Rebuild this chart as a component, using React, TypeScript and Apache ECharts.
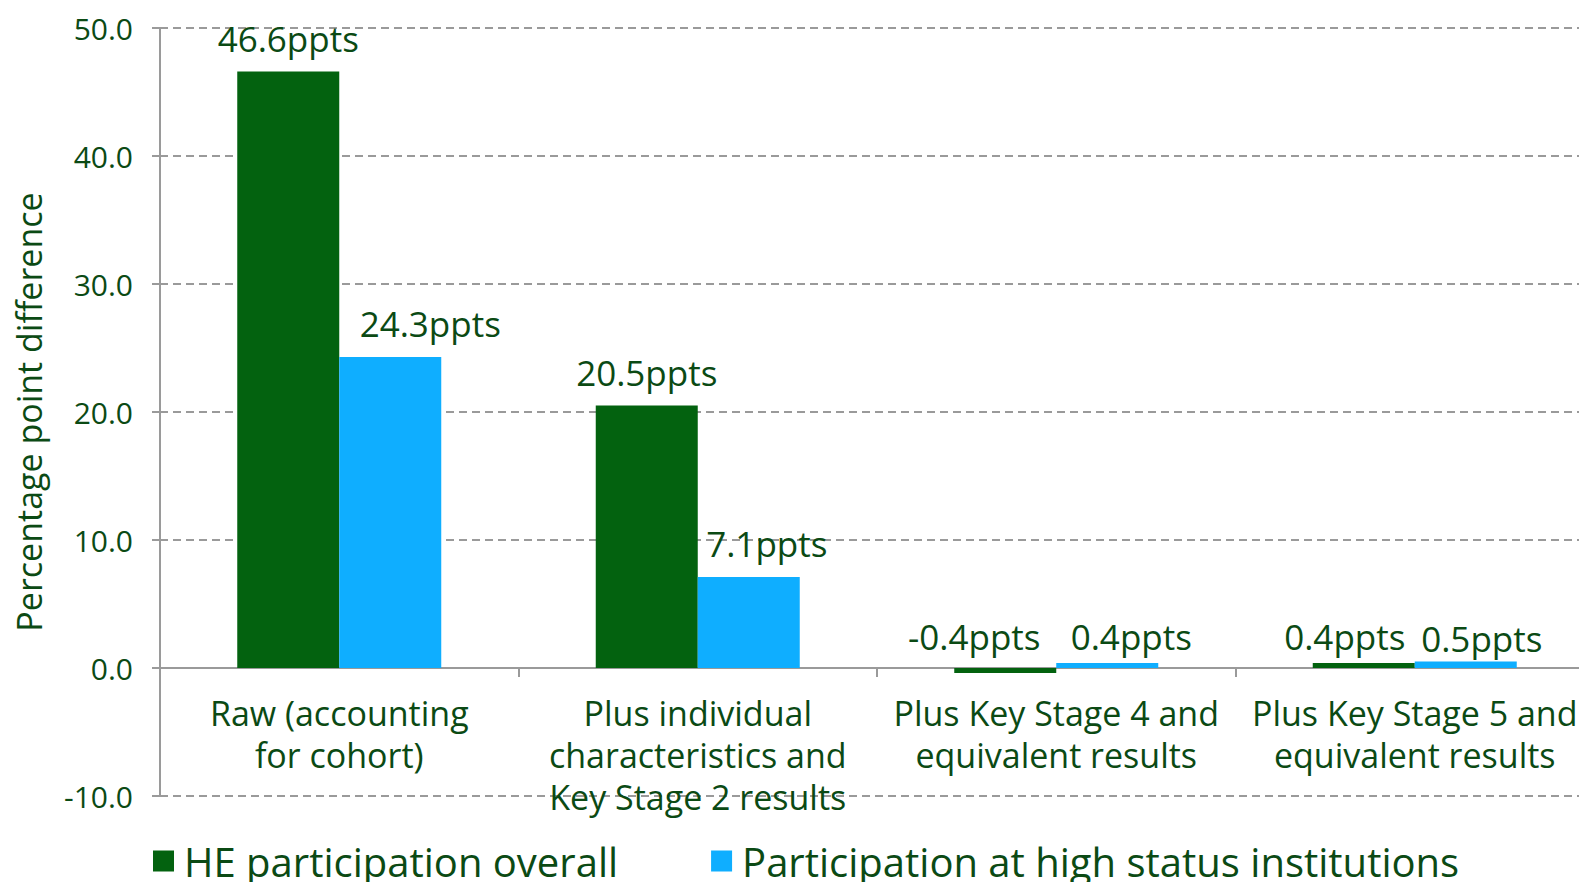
import React, { useEffect, useRef } from "react";
import * as echarts from "echarts";

const categories = [
  "Raw (accounting\nfor cohort)",
  "Plus individual\ncharacteristics and\nKey Stage 2 results",
  "Plus Key Stage 4 and\nequivalent results",
  "Plus Key Stage 5 and\nequivalent results",
];
const seriesNames = ["HE participation overall", "Participation at high status institutions"];
const heOverall = [46.6, 20.5, -0.4, 0.4];
const highStatus = [24.3, 7.1, 0.4, 0.5];
const yMin = -10;
const yMax = 50;
const yInterval = 10;
const yAxisName = "Percentage point difference";

const GREEN = "#03620f";
const BLUE = "#0faeff";
const TEXT = "#0b4a14";
const GRAY = "#9a9a9a";
const FONT = "Open Sans";

const W = 1579;
const H = 882;
const GRID_TOP = 28;
const GRID_BOTTOM = 86;

export default function App() {
  const ref = useRef<HTMLDivElement>(null);
  useEffect(() => {
    if (!ref.current) return;
    const chart = echarts.init(ref.current, undefined, { renderer: "svg" });
    const gridH = H - GRID_TOP - GRID_BOTTOM;
    const zeroOffset = -((0 - yMin) / (yMax - yMin)) * gridH;
    const baseLabel = {
      show: true,
      position: "top",
      distance: 16,
      color: TEXT,
      fontFamily: FONT,
      fontSize: 35,
      formatter: (p: any) => `${p.value}ppts`,
    };
    // nudges of the value labels, as in the reference
    const greenShift = [[0, 0], [0, 0], [-31, 2], [-19, 7]];
    const blueShift = [[40, 0], [18, 0], [24, 7], [16, 10]];
    const mk = (vals: number[], shifts: number[][]) =>
      vals.map((v, i) => ({ value: v, label: { offset: shifts[i] } }));
    chart.setOption({
      animation: false,
      textStyle: { fontFamily: FONT },
      grid: {
        left: 160,
        top: GRID_TOP,
        bottom: GRID_BOTTOM,
        right: -15,
        containLabel: false,
        outerBoundsMode: "none",
      },
      legend: {
        left: 148,
        bottom: -4,
        itemWidth: 21,
        itemHeight: 21,
        itemGap: 93,
        icon: "rect",
        textStyle: { color: TEXT, fontSize: 40, fontFamily: FONT, padding: [0, 0, 0, 5] },
        data: seriesNames,
      },
      xAxis: {
        type: "category",
        data: categories,
        position: "bottom",
        offset: zeroOffset,
        axisLine: { show: true, onZero: false, lineStyle: { color: GRAY, width: 2 } },
        axisTick: { show: true, length: 9, lineStyle: { color: GRAY, width: 2 } },
        axisLabel: {
          interval: 0,
          margin: 24,
          color: TEXT,
          fontSize: 34,
          lineHeight: 42,
          fontFamily: FONT,
          verticalAlign: "top",
        },
        splitLine: { show: false },
      },
      yAxis: {
        type: "value",
        min: yMin,
        max: yMax,
        interval: yInterval,
        name: yAxisName,
        nameLocation: "middle",
        nameGap: 114,
        nameTextStyle: { color: TEXT, fontSize: 34, fontFamily: FONT },
        axisLine: { show: true, lineStyle: { color: GRAY, width: 2 } },
        axisTick: { show: true, length: 8, lineStyle: { color: GRAY, width: 2 } },
        axisLabel: {
          margin: 27,
          color: TEXT,
          fontSize: 30,
          fontFamily: FONT,
          formatter: (v: number) => v.toFixed(1),
        },
        splitLine: { show: true, lineStyle: { color: GRAY, width: 2, type: [8, 5] } },
      },
      series: [
        {
          name: seriesNames[0],
          type: "bar",
          data: mk(heOverall, greenShift),
          barWidth: 102,
          barGap: "0%",
          itemStyle: { color: GREEN },
          label: baseLabel,
        },
        {
          name: seriesNames[1],
          type: "bar",
          data: mk(highStatus, blueShift),
          barWidth: 102,
          barGap: "0%",
          itemStyle: { color: BLUE },
          label: baseLabel,
        },
      ],
    });
    return () => chart.dispose();
  }, []);
  return (
    <div
      ref={ref}
      style={{ position: "absolute", left: 0, top: 0, width: W, height: H, background: "#fff" }}
    />
  );
}
